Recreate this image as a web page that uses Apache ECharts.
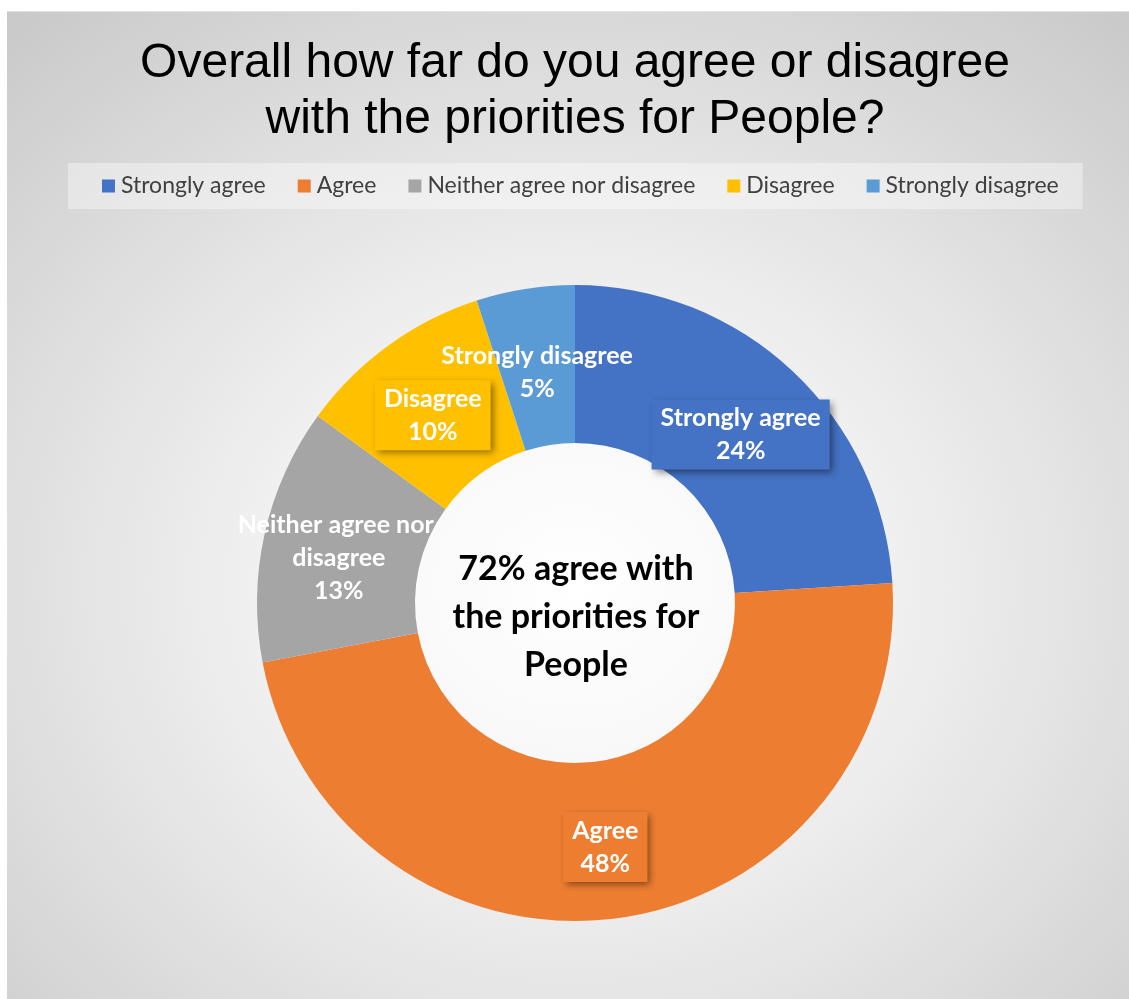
<!DOCTYPE html>
<html>
<head>
<meta charset="utf-8">
<script src="https://cdn.jsdelivr.net/npm/echarts@6/dist/echarts.min.js"></script>
<style>
  html, body { margin: 0; padding: 0; background: #ffffff; }
  #panel {
    position: absolute; left: 7px; top: 11px; width: 1122px; height: 988px;
    box-sizing: border-box; border-top: 1px solid #e2e2e2;
    background: radial-gradient(ellipse 80% 80% at 50.5% 58%, #ffffff 0%, #f8f8f8 22%, #e4e4e4 55%, #c6c6c6 100%);
  }
  #chart { position: absolute; left: 0; top: 0; width: 1129px; height: 999px; }
</style>
</head>
<body>
<div id="panel"></div>
<div id="chart"></div>
<script>
// Survey responses (percent of respondents)
const categories = ['Strongly agree', 'Agree', 'Neither agree nor disagree', 'Disagree', 'Strongly disagree'];
const shares = [24, 48, 13, 10, 5];
const colors = ['#4472C4', '#ED7D31', '#A5A5A5', '#FFC000', '#5B9BD5'];
const titleLines = ['Overall how far do you agree or disagree', 'with the priorities for People?'];
const centreLines = ['72% agree with', 'the priorities for', 'People'];

const bodyFont = 'Lato, "Open Sans", sans-serif';

// label boxes that straddle other slices keep a clear fill
const clearBox = { 'Neither agree nor disagree': true, 'Strongly disagree': true };

const pieData = categories.map((name, i) => {
  const item = {
    name: name,
    value: shares[i],
    itemStyle: { color: colors[i] },
    label: {
      backgroundColor: clearBox[name] ? 'transparent' : colors[i]
    }
  };
  if (name === 'Neither agree nor disagree') {
    item.label.width = 225;
    item.label.overflow = 'break';
  }
  return item;
});

const chart = echarts.init(document.getElementById('chart'), null, { renderer: 'canvas' });
chart.setOption({
  backgroundColor: 'transparent',
  animation: false,
  color: colors,
  title: {
    text: titleLines.join('\n'),
    left: 575,
    top: 36,
    padding: 0,
    textAlign: 'center',
    textStyle: {
      fontFamily: '"Liberation Sans", Arial, sans-serif',
      fontWeight: 'normal',
      fontSize: 48,
      lineHeight: 56,
      color: '#000000'
    }
  },
  legend: {
    data: categories,
    left: 68,
    top: 163,
    padding: [11, 24, 11, 34],
    backgroundColor: 'rgba(255,255,255,0.38)',
    icon: 'rect',
    itemWidth: 13,
    itemHeight: 13,
    itemGap: 32,
    selectedMode: false,
    textStyle: { fontFamily: bodyFont, fontSize: 23, lineHeight: 24, color: '#404040', padding: [0, 0, 0, 1] }
  },
  graphic: [{
    type: 'text',
    x: 576,
    y: 617,
    style: {
      text: centreLines.join('\n'),
      textAlign: 'center',
      textVerticalAlign: 'middle',
      fontFamily: bodyFont,
      fontWeight: 'bold',
      fontSize: 34,
      lineHeight: 48,
      fill: '#000000'
    }
  }],
  series: [{
    type: 'pie',
    center: [575, 603],
    radius: [160, 318],
    startAngle: 90,
    clockwise: true,
    avoidLabelOverlap: false,
    labelLayout: function (params) {
      return { hideOverlap: false, dy: params.dataIndex === 1 ? 4 : 8 };
    },
    labelLine: { show: false },
    itemStyle: { borderWidth: 0 },
    emphasis: { disabled: true },
    label: {
      show: true,
      position: 'inside',
      formatter: '{b}\n{c}%',
      fontFamily: bodyFont,
      fontWeight: 'bold',
      fontSize: 25,
      lineHeight: 33,
      color: '#ffffff',
      padding: [2, 9, 2, 9],
      shadowColor: 'rgba(0,0,0,0.45)',
      shadowBlur: 7,
      shadowOffsetX: 3,
      shadowOffsetY: 3
    },
    data: pieData
  }]
});
</script>
</body>
</html>
